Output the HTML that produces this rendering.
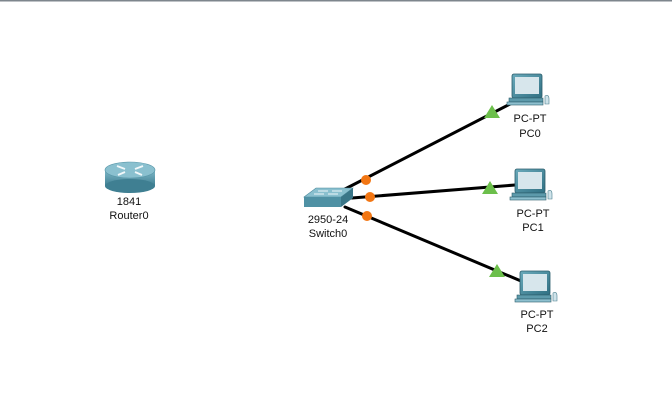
<!DOCTYPE html>
<html><head><meta charset="utf-8"><style>
html,body{margin:0;padding:0;background:#fff;}
svg{display:block;}
text{font-family:"Liberation Sans",sans-serif;font-size:11px;fill:#111;text-anchor:middle;}
</style></head><body>
<svg width="672" height="408" viewBox="0 0 672 408" xmlns="http://www.w3.org/2000/svg">
<defs>
<linearGradient id="rg" x1="0" y1="0" x2="0" y2="1"><stop offset="0" stop-color="#7fb8c8"/><stop offset="1" stop-color="#3f7f92"/></linearGradient>
<linearGradient id="mon" x1="0" y1="0" x2="1" y2="1"><stop offset="0" stop-color="#6aaabb"/><stop offset="1" stop-color="#2f6f82"/></linearGradient>
<g id="pc">
<rect x="0" y="0" width="30" height="24" rx="2" fill="url(#mon)" stroke="#2c5e6c" stroke-width="0.8"/>
<rect x="3" y="3" width="24" height="17" fill="#d7e6ec"/>
<rect x="-3" y="24" width="34" height="4" fill="#5d9aab" stroke="#2c5e6c" stroke-width="0.6"/>
<rect x="-5" y="28" width="36" height="3" fill="#8ec0cf" stroke="#2c5e6c" stroke-width="0.6"/>
<path d="M33 22 q4 -2 4 3 l0 5 l-4 0z" fill="#cfe3ea" stroke="#4a7f8e" stroke-width="0.6"/>
</g>
</defs>
<rect x="0" y="0" width="672" height="1.5" fill="#7e868d"/>
<g stroke="#000" stroke-width="3" stroke-linecap="round">
<line x1="345" y1="189" x2="512" y2="103"/>
<line x1="352" y1="198" x2="515" y2="185"/>
<line x1="345" y1="207" x2="521" y2="281"/>
</g>
<g fill="#f27613">
<circle cx="366" cy="180" r="5"/>
<circle cx="370" cy="197" r="5"/>
<circle cx="367" cy="216" r="5"/>
</g>
<g fill="#6cbf4b">
<polygon points="492,105 500,118 484,118"/>
<polygon points="490,181 498,194 482,194"/>
<polygon points="497,264 505,277 489,277"/>
</g>
<g>
<rect x="105" y="170" width="50" height="16" fill="url(#rg)"/>
<ellipse cx="130" cy="186" rx="25" ry="7" fill="#3f7f92"/>
<ellipse cx="130" cy="170" rx="25" ry="8" fill="#8ac0cf" stroke="#5a98aa" stroke-width="0.6"/>
<g stroke="#f2f8fa" stroke-width="1.8" fill="none">
<path d="M117 166 l8 3"/><path d="M143 166 l-8 3"/><path d="M118 175 l7 -3"/><path d="M142 175 l-7 -3"/>
</g>
</g>
<text x="129" y="205">1841</text>
<text x="129" y="219">Router0</text>
<g>
<polygon points="304,197 316,188 353,188 341,197" fill="#8ac0cf" stroke="#4d8a9c" stroke-width="0.6"/>
<polygon points="304,197 341,197 341,207 304,207" fill="#4f91a4"/>
<polygon points="341,197 353,188 353,198 341,207" fill="#3a7688"/>
<g stroke="#eef6f8" stroke-width="1"><line x1="318" y1="191" x2="328" y2="191"/><line x1="332" y1="191" x2="342" y2="191"/><line x1="314" y1="194" x2="324" y2="194"/><line x1="328" y1="194" x2="338" y2="194"/></g>
</g>
<text x="328" y="223">2950-24</text>
<text x="328" y="237">Switch0</text>
<use href="#pc" x="512" y="74"/>
<text x="530" y="122">PC-PT</text>
<text x="530" y="137">PC0</text>
<use href="#pc" x="515" y="169"/>
<text x="533" y="217">PC-PT</text>
<text x="533" y="231">PC1</text>
<use href="#pc" x="520" y="271"/>
<text x="537" y="318">PC-PT</text>
<text x="537" y="332">PC2</text>
</svg>
</body></html>
